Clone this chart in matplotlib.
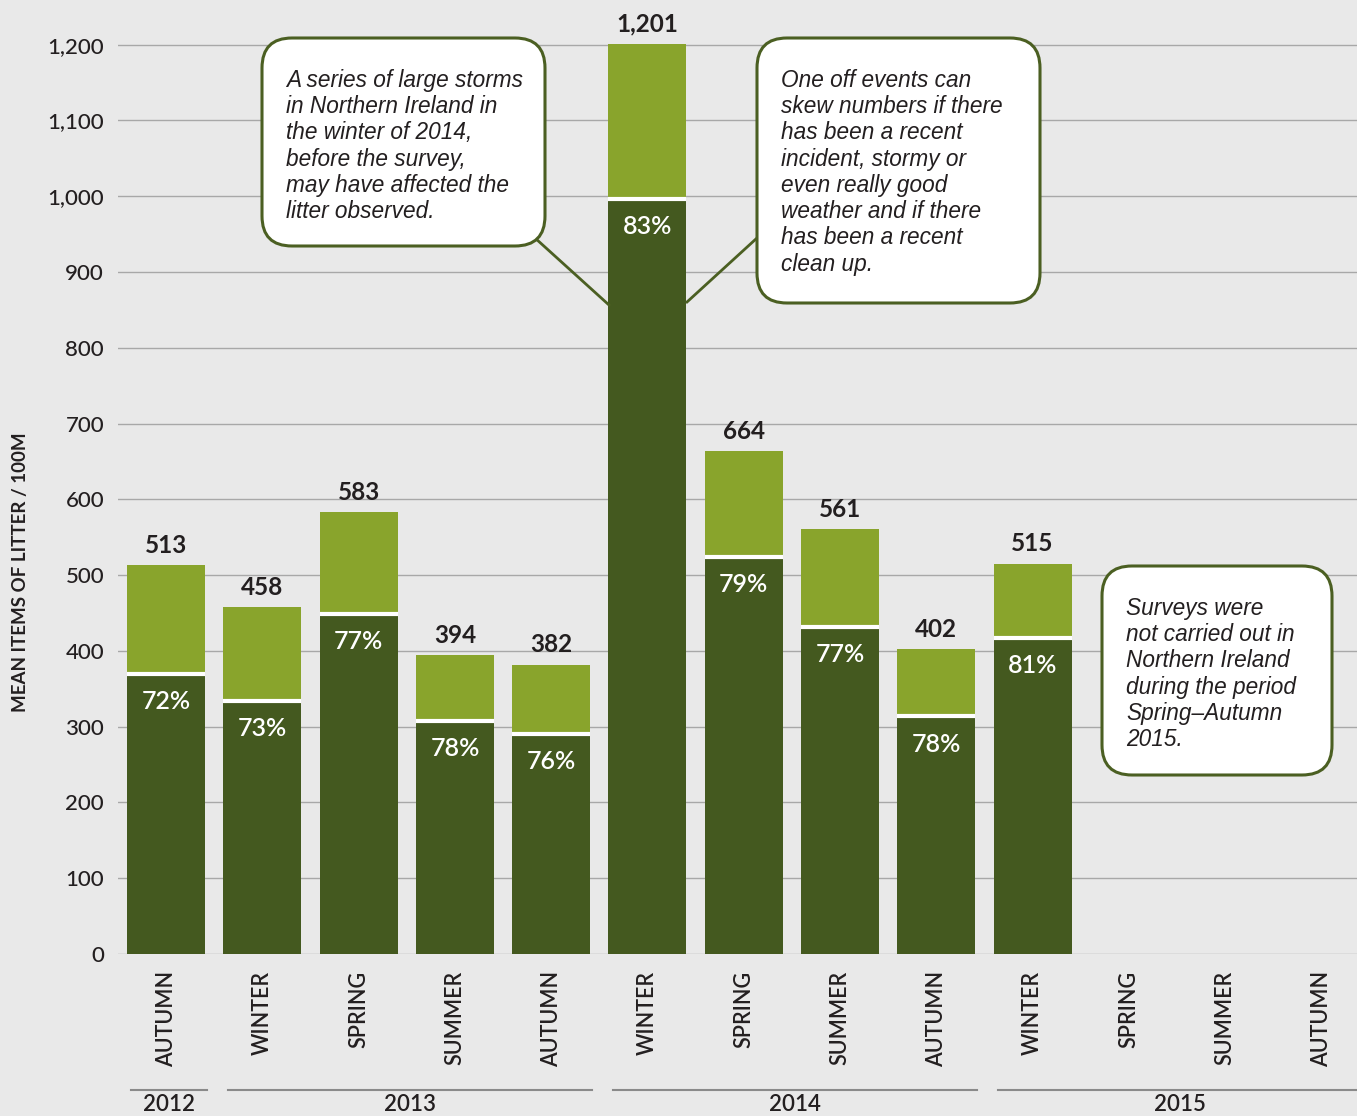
import matplotlib.pyplot as plt
import numpy as np
from matplotlib.patches import FancyBboxPatch
from matplotlib.transforms import blended_transform_factory

# data
seasons = ["AUTUMN", "WINTER", "SPRING", "SUMMER", "AUTUMN",
           "WINTER", "SPRING", "SUMMER", "AUTUMN",
           "WINTER", "SPRING", "SUMMER", "AUTUMN"]
totals = [513, 458, 583, 394, 382, 1201, 664, 561, 402, 515]
pcts = [72, 73, 77, 78, 76, 83, 79, 77, 78, 81]
years = ["2012", "2013", "2014", "2015"]
year_first = [0, 1, 5, 9]
year_last = [0, 4, 8, 12]
yticks = [0, 100, 200, 300, 400, 500, 600, 700, 800, 900, 1000, 1100, 1200]

note1 = ("A series of large storms\nin Northern Ireland in\nthe winter of 2014,\n"
         "before the survey,\nmay have affected the\nlitter observed.")
note2 = ("One off events can\nskew numbers if there\nhas been a recent\n"
         "incident, stormy or\neven really good\nweather and if there\n"
         "has been a recent\nclean up.")
note3 = ("Surveys were\nnot carried out in\nNorthern Ireland\nduring the period\n"
         "Spring\u2013Autumn\n2015.")

dark_c = "#44591f"
light_c = "#89a42c"
txt_c = "#231f20"
bg = "#e9e9e9"

W, H = 1357, 1116
fig = plt.figure(figsize=(W / 100, H / 100), dpi=100)
fig.patch.set_facecolor(bg)

ax = fig.add_axes([118 / W, (H - 954) / H, (W - 118) / W, 954 / H])
ax.set_facecolor("none")

x = np.arange(len(totals))
tot = np.array(totals, dtype=float)
dark = tot * np.array(pcts) / 100.0
light = tot - dark
bw = 0.81

ax.bar(x, dark, width=bw, color=dark_c, zorder=3)
ax.bar(x, light, bottom=dark, width=bw, color=light_c, zorder=3)
ax.hlines(dark, x - bw / 2, x + bw / 2, color="white", lw=3, zorder=4)

for i in range(len(totals)):
    ax.annotate(f"{totals[i]:,}", (x[i], tot[i]), xytext=(0, 6),
                textcoords="offset points", ha="center", va="bottom",
                fontsize=17.5, fontweight="bold", color=txt_c,
                family="Lato", zorder=5)
    ax.annotate(f"{pcts[i]}%", (x[i], dark[i]), xytext=(0, -20),
                textcoords="offset points", ha="center", va="center",
                fontsize=18, color="white", family="Lato",
                fontweight="semibold", zorder=5)

ax.set_xlim(-0.5, 12.37)
ax.set_ylim(0, 1259)
ax.set_yticks(yticks)
ax.set_yticklabels([f"{v:,}" for v in yticks], family="Lato",
                   fontsize=16, color=txt_c, fontweight="medium")
ax.set_xticks(np.arange(len(seasons)))
ax.set_xticklabels(seasons, rotation=90, family="Lato", fontsize=15.5,
                   color=txt_c, fontweight="semibold", va="top")
ax.tick_params(axis="y", length=0, pad=10)
ax.tick_params(axis="x", length=0, pad=12)
ax.grid(axis="y", color="#a8a8a8", lw=1, zorder=1)
for s in ax.spines.values():
    s.set_visible(False)

ax.text(-0.079, 0.4, "MEAN ITEMS OF LITTER / 100M", transform=ax.transAxes,
        rotation=90, ha="center", va="center", fontsize=13.5,
        fontweight="bold", family="Lato", color=txt_c)

# year brackets below the season labels
tr = blended_transform_factory(ax.transData, ax.transAxes)
for yr, a, b in zip(years, year_first, year_last):
    ax.plot([a - 0.36, b + 0.42], [-0.1426, -0.1426], transform=tr,
            color="#8a8a8a", lw=1.5, clip_on=False)
    ax.text((a + b) / 2 + 0.03, -0.158, yr, transform=tr, ha="center",
            va="center", fontsize=16, family="Lato",
            fontweight="semibold", color=txt_c)

# callouts, drawn on a pixel overlay
ov = fig.add_axes([0, 0, 1, 1])
ov.set_xlim(0, W)
ov.set_ylim(H, 0)
ov.axis("off")
ov.patch.set_alpha(0)

boxes = [(262, 38, 283, 208, note1), (757, 38, 283, 265, note2),
         (1102, 566, 230, 209, note3)]
for bx, by, bwid, bh, txt in boxes:
    ov.add_patch(FancyBboxPatch((bx, by), bwid, bh,
                                boxstyle="round,pad=0,rounding_size=30",
                                facecolor="white", edgecolor="#4b5f22",
                                lw=2.2, zorder=3))
    ov.text(bx + 24, by + 31, txt, ha="left", va="top", fontsize=16.3,
            style="italic", family="Liberation Sans", color=txt_c,
            linespacing=1.18, zorder=4)

ov.plot([535, 609], [238, 305], color="#4b5f22", lw=2, zorder=2)
ov.plot([757, 687], [238, 302], color="#4b5f22", lw=2, zorder=2)

fig.savefig("out.png", dpi=100, facecolor=bg)
